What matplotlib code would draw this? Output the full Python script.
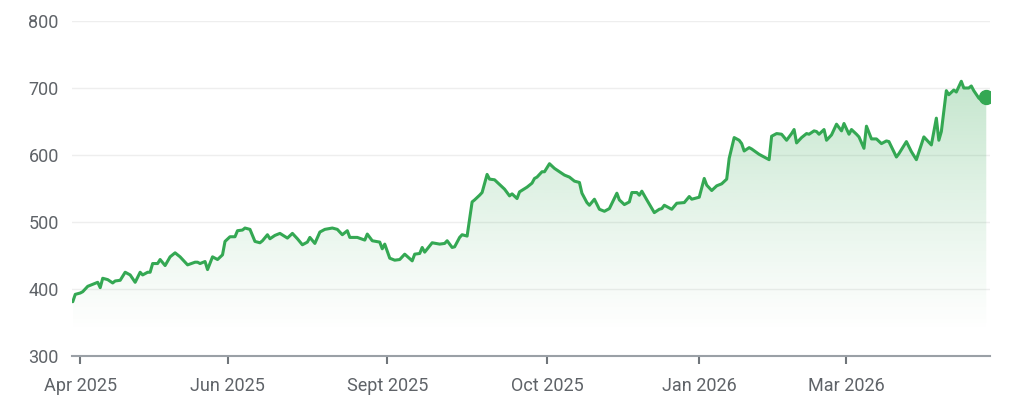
import numpy as np
import matplotlib
matplotlib.use('Agg')
import matplotlib.pyplot as plt

plt.rcParams['font.family'] = ['Roboto', 'DejaVu Sans']
plt.rcParams['font.size'] = 13

# Data: days since start of chart and closing price
days = [0, 1, 3, 4, 6, 8, 10, 11, 12, 14, 16, 17, 19, 21, 23, 25, 27, 28, 30, 31,
        32, 34, 35, 37, 39, 41, 43, 46, 49, 50, 51, 53, 54, 56, 58, 60, 61, 63, 65, 66,
        68, 69, 71, 73, 75, 76, 78, 79, 81, 83, 86, 88, 90, 92, 94, 95, 97, 99, 101, 104,
        106, 108, 110, 111, 114, 117, 118, 120, 123, 124, 125, 127, 129, 131, 133, 136, 137, 139, 140, 141,
        144, 147, 149, 150, 152, 153, 155, 156, 158, 160, 161, 163, 164, 166, 167, 169, 171, 173, 175, 176,
        178, 179, 182, 184, 185, 186, 188, 189, 191, 193, 195, 197, 199, 201, 203, 204, 206, 207, 209, 211,
        213, 215, 218, 219, 221, 223, 224, 226, 227, 228, 230, 233, 235, 236, 237, 240, 242, 245, 247, 248,
        251, 253, 254, 256, 258, 260, 262, 263, 265, 267, 268, 269, 271, 272, 275, 277, 279, 280, 282, 284,
        286, 288, 289, 290, 292, 294, 295, 297, 298, 299, 301, 302, 304, 306, 308, 309, 311, 312, 314, 315,
        317, 318, 320, 322, 324, 326, 327, 330, 331, 334, 336, 338, 341, 344, 346, 347, 348, 350, 351, 353,
        354, 356, 357, 359, 360, 361, 363, 364, 366]
prices = [381, 392, 394, 396, 404, 407, 410, 402, 416, 414, 409, 412, 413, 425, 421, 410, 425, 421, 425, 425,
          438, 438, 444, 435, 448, 454, 448, 436, 440, 440, 438, 441, 429, 448, 444, 451, 471, 478, 478, 487,
          488, 491, 489, 471, 469, 472, 481, 475, 480, 483, 476, 483, 475, 466, 470, 477, 468, 485, 489, 491,
          489, 481, 487, 477, 477, 473, 482, 472, 470, 460, 467, 446, 443, 444, 452, 442, 452, 453, 462, 455,
          469, 467, 468, 472, 462, 463, 477, 481, 479, 530, 533, 540, 544, 571, 564, 563, 556, 549, 539, 542,
          535, 545, 552, 558, 565, 567, 575, 575, 587, 580, 575, 570, 567, 561, 559, 543, 529, 525, 534, 519,
          516, 520, 543, 533, 526, 530, 544, 544, 540, 546, 533, 514, 519, 520, 525, 519, 528, 529, 538, 534,
          537, 565, 555, 547, 554, 557, 564, 595, 626, 622, 617, 606, 611, 609, 601, 597, 593, 628, 632, 631,
          622, 632, 638, 618, 626, 632, 631, 636, 635, 631, 638, 622, 630, 646, 636, 647, 631, 638, 631, 627,
          610, 643, 624, 624, 617, 621, 620, 597, 602, 620, 605, 593, 627, 615, 655, 622, 635, 696, 690, 697,
          694, 710, 700, 700, 703, 696, 685, 682, 687]

tick_days = [3, 62, 126, 190, 251, 310]
tick_labels = ['Apr 2025', 'Jun 2025', 'Sept 2025', 'Oct 2025', 'Jan 2026', 'Mar 2026']
y_ticks = [300, 400, 500, 600, 700, 800]

green = '#34a853'
grey_text = '#5f6368'

fig = plt.figure(figsize=(10.2, 4), dpi=100)
ax = fig.add_axes([0.0706, 0.11, 0.9, 0.8375])

# gradient fill under the line, fading out before the bottom
poly = ax.fill_between(days, prices, 300, color='none', lw=0)
grad = np.zeros((256, 1, 4))
grad[:, 0, :3] = matplotlib.colors.to_rgb(green)
grad[:, 0, 3] = np.linspace(0.32, 0.0, 256) ** 1.1
im = ax.imshow(grad, aspect='auto', extent=[days[0], days[-1], 335, max(prices)],
               origin='upper', zorder=1)
im.set_clip_path(poly.get_paths()[0], transform=ax.transData)

ax.plot(days, prices, color=green, lw=2.2, zorder=3,
        solid_joinstyle='round', solid_capstyle='round')
ax.plot(days[-1], prices[-1], 'o', color=green, ms=10, zorder=4)

ax.set_xlim(-0.3, 367.5)
ax.set_ylim(300, 800)
ax.set_yticks(y_ticks)
ax.set_xticks(tick_days)
ax.set_xticklabels(tick_labels)
for y in y_ticks[1:]:
    ax.axhline(y, color='#eeeeee', lw=1, zorder=0)

for s in ['top', 'right', 'left']:
    ax.spines[s].set_visible(False)
ax.spines['bottom'].set_color('#9aa0a6')
ax.spines['bottom'].set_linewidth(1.5)
ax.tick_params(axis='y', length=0, pad=9.5, labelsize=13, labelcolor=grey_text)
ax.tick_params(axis='x', length=6, width=1.5, color='#70757a', pad=9,
               labelsize=13, labelcolor=grey_text)

plt.savefig('out.png', dpi=100)
